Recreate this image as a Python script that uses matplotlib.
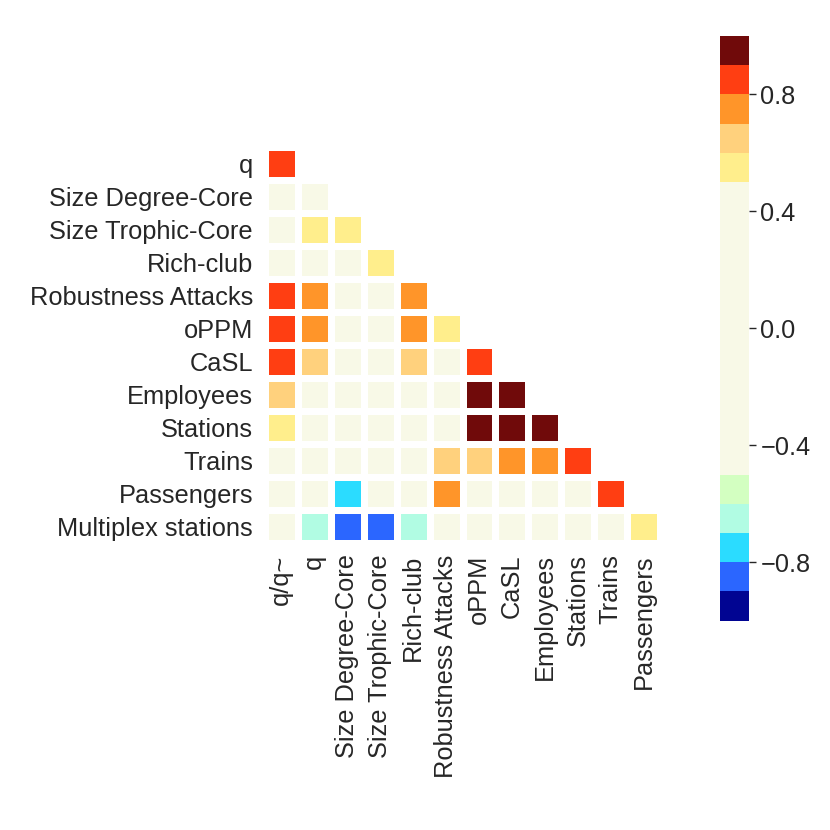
import numpy as np
import matplotlib
matplotlib.use("Agg")
import matplotlib.pyplot as plt
from matplotlib.colors import ListedColormap, BoundaryNorm

plt.rcParams["font.family"] = ["Liberation Sans", "DejaVu Sans"]

# lower-triangle correlations (rows vs columns)
row_labels = ["q", "Size Degree-Core", "Size Trophic-Core", "Rich-club",
              "Robustness Attacks", "oPPM", "CaSL", "Employees", "Stations",
              "Trains", "Passengers", "Multiplex stations"]
col_labels = ["q/q~", "q", "Size Degree-Core", "Size Trophic-Core", "Rich-club",
              "Robustness Attacks", "oPPM", "CaSL", "Employees", "Stations",
              "Trains", "Passengers"]

r_q = [0.86]
r_sdc = [0.12, 0.31]
r_stc = [0.22, 0.55, 0.54]
r_rich = [0.15, 0.35, 0.28, 0.56]
r_rob = [0.84, 0.74, 0.18, 0.25, 0.76]
r_oppm = [0.85, 0.75, 0.14, 0.21, 0.74, 0.57]
r_casl = [0.83, 0.66, 0.10, 0.19, 0.65, 0.42, 0.86]
r_emp = [0.64, 0.38, -0.05, 0.02, 0.33, 0.30, 0.96, 0.95]
r_sta = [0.56, 0.34, -0.08, 0.01, 0.30, 0.28, 0.95, 0.94, 0.98]
r_tra = [0.41, 0.22, -0.21, -0.12, 0.25, 0.64, 0.66, 0.76, 0.77, 0.84]
r_pas = [0.18, 0.05, -0.74, -0.32, 0.02, 0.73, 0.35, 0.42, 0.44, 0.48, 0.87]
r_mul = [-0.25, -0.63, -0.86, -0.84, -0.62, 0.12, 0.20, 0.15, 0.18, 0.22, 0.31, 0.55]

rows = [r_q, r_sdc, r_stc, r_rich, r_rob, r_oppm, r_casl, r_emp, r_sta,
        r_tra, r_pas, r_mul]

band_colors = ["#010592", "#2b66ff", "#2bdcff", "#b1fce3", "#d3ffc1"] + \
              ["#f8f9e7"] * 10 + \
              ["#ffee8c", "#ffd17d", "#ff9529", "#ff3e12", "#700a0a"]
cbar_ticks = [-0.8, -0.4, 0.0, 0.4, 0.8]

n = len(row_labels)
mat = np.full((n, n), np.nan)
for i, vals in enumerate(rows):
    mat[i, :len(vals)] = vals
mat = np.ma.masked_invalid(mat)

cmap = ListedColormap(band_colors)
norm = BoundaryNorm(np.linspace(-1, 1, 21), cmap.N)

W = H = 830
fig = plt.figure(figsize=(8.3, 8.3), dpi=100)
ax = fig.add_axes([264.8 / W, (H - 542.5) / H, 395.4 / W, 395.0 / H])
cax = fig.add_axes([720 / W, (H - 620.7) / H, 29.3 / W, 584.7 / H])

mesh = ax.pcolormesh(mat, cmap=cmap, norm=norm, edgecolors="white", linewidth=5)
ax.set_xlim(0, n)
ax.set_ylim(n, 0)
ax.set_xticks(np.arange(n) + 0.5)
ax.set_xticklabels(col_labels, rotation=90, fontsize=18.3, color="#262626")
ax.set_yticks(np.arange(n) + 0.5)
ax.set_yticklabels(row_labels, fontsize=18.3, color="#262626")
ax.tick_params(length=0, pad=8.5)
for s in ax.spines.values():
    s.set_visible(False)

cb = fig.colorbar(mesh, cax=cax, ticks=cbar_ticks)
cb.outline.set_visible(False)
cb.minorticks_off()
cb.ax.tick_params(labelsize=18.3, labelcolor="#262626", length=5, width=1.0,
                  color="#262626", pad=3)
cb.ax.set_yticklabels([f"{t:.1f}".replace("-", "\u2212") for t in cbar_ticks])

fig.savefig("out.png", dpi=100)
